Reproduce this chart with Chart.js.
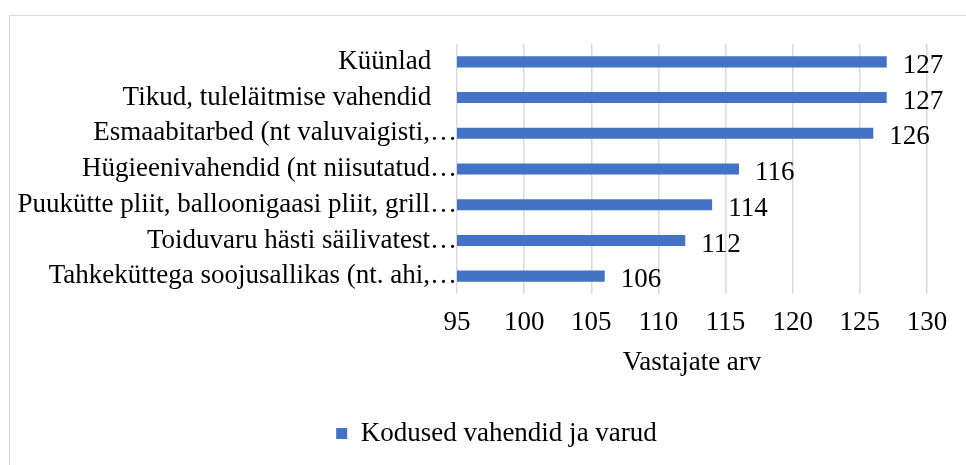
<!DOCTYPE html>
<html>
<head>
<meta charset="utf-8">
<script src="https://cdn.jsdelivr.net/npm/chart.js@4/dist/chart.umd.min.js"></script>
<style>
  html, body { margin: 0; padding: 0; background: #fff; }
  #wrap { width: 966px; height: 465px; }
</style>
</head>
<body>
<div id="wrap"><canvas id="chart" width="966" height="465"></canvas></div>
<script>

// data
const categories = [
  'Küünlad',
  'Tikud, tuleläitmise vahendid',
  'Esmaabitarbed (nt valuvaigisti,…',
  'Hügieenivahendid (nt niisutatud…',
  'Puukütte pliit, balloonigaasi pliit, grill…',
  'Toiduvaru hästi säilivatest…',
  'Tahkeküttega soojusallikas (nt. ahi,…'
];
const values = [127, 127, 126, 116, 114, 112, 106];
const seriesName = 'Kodused vahendid ja varud';
const axisTitle = 'Vastajate arv';
const axisMin = 95;
const axisMax = 130;
const axisStep = 5;

const serif = '"Liberation Serif", "Times New Roman", serif';
Chart.defaults.font.family = serif;
Chart.defaults.font.size = 27;
Chart.defaults.color = '#000';

// light grey frame around the chart, like the office export
const frame = {
  id: 'frame',
  beforeDraw(chart) {
    const ctx = chart.ctx;
    ctx.save();
    ctx.strokeStyle = '#d9d9d9';
    ctx.lineWidth = 1;
    ctx.strokeRect(9.5, 15.5, 1200, 600);
    ctx.restore();
  },
  // legend sits a bit right of the canvas middle in the original
  afterLayout(chart) {
    chart.legend.left += 33;
    chart.legend.right += 33;
  }
};

// value labels at the end of each bar
const valueLabels = {
  id: 'valueLabels',
  afterDatasetsDraw(chart) {
    const ctx = chart.ctx;
    const meta = chart.getDatasetMeta(0);
    ctx.save();
    ctx.font = '27px ' + serif;
    ctx.fillStyle = '#000';
    ctx.textAlign = 'left';
    ctx.textBaseline = 'middle';
    meta.data.forEach((bar, i) => {
      ctx.fillText(String(chart.data.datasets[0].data[i]), bar.x + 16, bar.y + 4);
    });
    ctx.restore();
  }
};

new Chart(document.getElementById('chart'), {
  type: 'bar',
  data: {
    labels: categories,
    datasets: [{
      label: seriesName,
      data: values,
      backgroundColor: '#4472C4',
      borderWidth: 0,
      barPercentage: 0.31,
      categoryPercentage: 1.0
    }]
  },
  options: {
    indexAxis: 'y',
    responsive: false,
    animation: false,
    layout: {
      padding: { top: 44, left: 0, right: 39, bottom: 8 }
    },
    scales: {
      x: {
        min: axisMin,
        max: axisMax,
        ticks: { stepSize: axisStep, padding: 13 },
        grid: { color: '#d9d9d9', lineWidth: 1.5, drawTicks: false },
        border: { display: false },
        title: {
          display: true,
          text: axisTitle,
          padding: { top: 0, bottom: 8 }
        },
        afterFit(scale) {
          scale.height = 93;
          scale.paddingRight = 0; // the layout padding already leaves room for "130"
        }
      },
      y: {
        grid: { display: false, drawTicks: false },
        border: { display: false },
        ticks: {
          padding: 0,
          autoSkip: false,
          // cut-off labels run up to the axis, whole ones keep a gap
          callback(value) {
            const label = this.getLabelForValue(value);
            return label.endsWith('…') ? label : label + '   \u2009';
          }
        },
        afterFit(scale) { scale.width = 457; }
      }
    },
    plugins: {
      legend: {
        position: 'bottom',
        labels: { boxWidth: 11, boxHeight: 11, padding: 33 }
      },
      tooltip: { enabled: false }
    }
  },
  plugins: [frame, valueLabels]
});
</script>
</body>
</html>
